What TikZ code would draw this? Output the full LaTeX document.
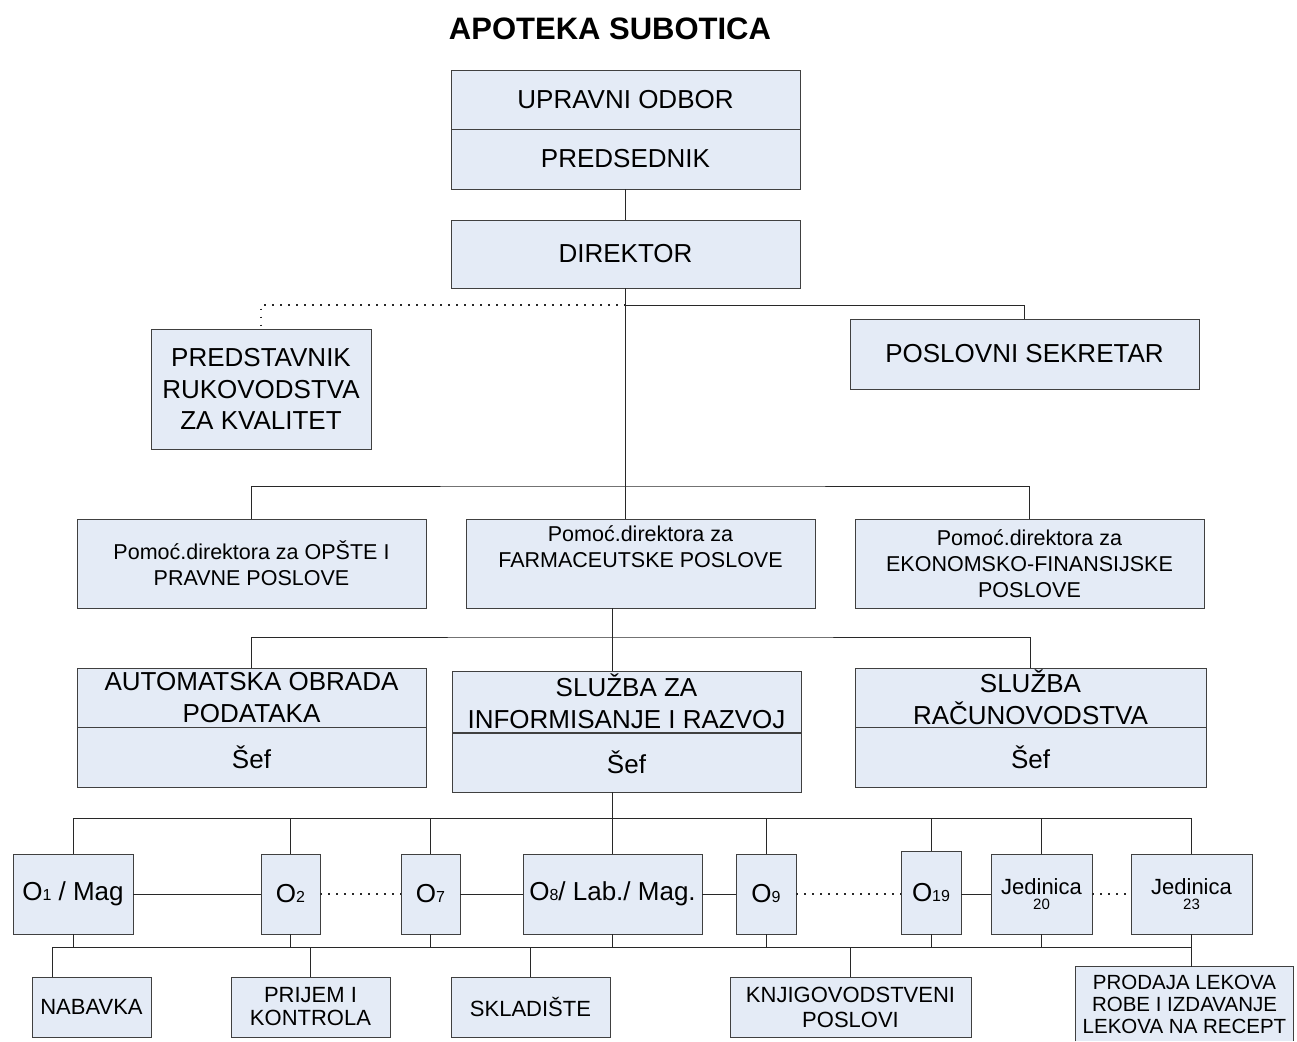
\documentclass[tikz,border=0pt]{standalone}
\usepackage{fontspec}
\setmainfont{Liberation Sans}
\usetikzlibrary{calc}
\definecolor{boxfill}{RGB}{228,235,246}
\definecolor{boxline}{RGB}{64,64,64}
\definecolor{connc}{RGB}{40,40,40}
\newcommand\fs[2]{\fontsize{#1}{#2}\selectfont}
\newcommand\smalld[1]{{\fs{16}{16}#1}}
\begin{document}
\begin{tikzpicture}[x=1pt,y=-1pt,
  box/.style={draw=boxline,fill=boxfill,line width=0.9pt,inner sep=0pt,align=center,rectangle},
  wh/.style 2 args={minimum width=#1pt,minimum height=#2pt},
  conn/.style={draw=connc,line width=0.8pt},
  dotline/.style={draw=connc,line width=1.1pt,dash pattern=on 1.2pt off 6.8pt},
  big/.style={font=\fs{26}{31.5}},
  mid/.style={font=\fs{21.5}{26}},
  sm/.style={font=\fs{22}{24}},
]
\useasboundingbox (0,0) rectangle (1297,1041);

\node[font={\fs{31}{31}\bfseries}] (title) at (610,29) {APOTEKA SUBOTICA};

\node[box,big,wh={349}{59}] (up) at (625.5,99.5) {UPRAVNI ODBOR};
\node[box,big,wh={349}{60}] (pred) at (625.5,159) {PREDSEDNIK};
\node[box,big,wh={349}{68}] (dir) at (625.5,254) {DIREKTOR};
\node[box,big,wh={220}{120}] (kval) at (261,389) {PREDSTAVNIK\\RUKOVODSTVA\\ZA KVALITET};
\node[box,big,wh={349}{70}] (sek) at (1024.5,354) {POSLOVNI SEKRETAR};

\node[box,mid,wh={349}{89}] (pom1) at (251.5,563.5) {Pomoć.direktora za OPŠTE I\\PRAVNE POSLOVE};
\node[box,mid,wh={349}{89}] (pom2) at (640.5,563.5) {Pomoć.direktora za\\FARMACEUTSKE POSLOVE\\\strut};
\node[box,mid,wh={349}{89}] (pom3) at (1029.5,563.5) {Pomoć.direktora za\\EKONOMSKO-FINANSIJSKE\\POSLOVE};

\node[box,big,wh={349}{59}] (aut) at (251.5,697.5) {AUTOMATSKA OBRADA\\PODATAKA};
\node[box,big,wh={349}{60}] (autsef) at (251.5,757) {Šef};
\node[box,big,wh={349}{61}] (inf) at (626.5,701.5) {SLUŽBA ZA\\INFORMISANJE I RAZVOJ};
\node[box,big,wh={349}{59}] (infsef) at (626.5,762.5) {Šef};
\node[box,big,wh={351}{59}] (rac) at (1030.5,697.5) {SLUŽBA\\RAČUNOVODSTVA};
\node[box,big,wh={351}{60}] (racsef) at (1030.5,757) {Šef};

\node[box,font=\fs{26}{26},wh={120}{80}] (o1) at (73,894) {O\smalld{1} / Mag};
\node[box,font=\fs{26}{26},wh={59}{80}] (o2) at (290.5,894) {O\smalld{2}};
\node[box,font=\fs{26}{26},wh={59}{80}] (o7) at (430.5,894) {O\smalld{7}};
\node[box,font=\fs{26}{26},wh={179}{80}] (o8) at (612.5,894) {O\smalld{8}/ Lab./ Mag.};
\node[box,font=\fs{26}{26},wh={60}{80}] (o9) at (766,894) {O\smalld{9}};
\node[box,font=\fs{26}{26},wh={60}{83}] (o19) at (931,892.5) {O\smalld{19}};
\node[box,font=\fs{22}{22},wh={101}{80}] (j20) at (1041.5,894) {Jedinica\\[-7pt]{\fs{15}{15}20}};
\node[box,font=\fs{22}{22},wh={121}{80}] (j23) at (1191.5,894) {Jedinica\\[-7pt]{\fs{15}{15}23}};

\node[box,sm,wh={119}{60}] (nab) at (91.5,1007) {NABAVKA};
\node[box,font=\fs{22}{23},wh={159}{60}] (pri) at (310.5,1007) {PRIJEM I\\KONTROLA};
\node[box,sm,wh={159}{60}] (skl) at (530.5,1007) {SKLADIŠTE};
\node[box,font=\fs{22}{25},wh={241}{60}] (knj) at (850.5,1007) {KNJIGOVODSTVENI\\POSLOVI};
\node[box,draw=none,font=\fs{20.5}{22},wh={217}{74}] (pro) at (1184.5,1004) {PRODAJA LEKOVA\\ROBE I IZDAVANJE\\LEKOVA NA RECEPT};
\draw[draw=boxline,line width=0.9pt] (pro.south west) -- (pro.north west) -- (pro.north east) -- (pro.south east);

% connectors upper part
\coordinate (j1) at (625.5,305);
\draw[conn] (pred.south) -- (dir.north);
\draw[conn] (dir.south) -- (dir.south |- pom2.north);
\draw[conn] (j1) -| (sek.north);
\draw[dotline] (j1) -| (kval.north);
\coordinate (b2) at (625.5,486);
\draw[conn] (pom1.north) |- (b2) -| (pom3.north);
\coordinate (b3) at (640,637);
\draw[conn] (aut.north) |- (b3) -| (rac.north);
\draw[conn] (o8.north |- pom2.south) -- (o8.north |- inf.north);
\draw[conn] (o8.north |- infsef.south) -- (o8.north);

% row bus
\coordinate (rb) at (640,818);
\draw[conn] (o1.north) |- (rb) -| (j23.north);
\foreach \n in {o2,o7,o9,o19,j20} \draw[conn] (\n.north) -- (\n.north |- rb);
\draw[conn] (o1.east) -- (o2.west);
\draw[dotline] (o2.east) -- (o7.west);
\draw[conn] (o7.east) -- (o8.west);
\draw[conn] (o8.east) -- (o9.west);
\draw[dotline] (o9.east) -- (o9.east -| o19.west);
\draw[conn] (j20.west -| o19.east) -- (j20.west);
\draw[dotline] (j20.east) -- (j23.west);

% lower bus
\coordinate (lb) at (52,947);
\draw[conn] (lb) -- (lb -| j23.south);
\foreach \n in {o1,o2,o7,o8,o9,o19,j20} \draw[conn] (\n.south) -- (\n.south |- lb);
\draw[conn] (lb) -- (lb |- nab.north);
\foreach \n in {pri,skl,knj} \draw[conn] (\n.north) -- (\n.north |- lb);
\draw[conn] (j23.south) -- (j23.south |- pro.north);
\end{tikzpicture}
\end{document}
